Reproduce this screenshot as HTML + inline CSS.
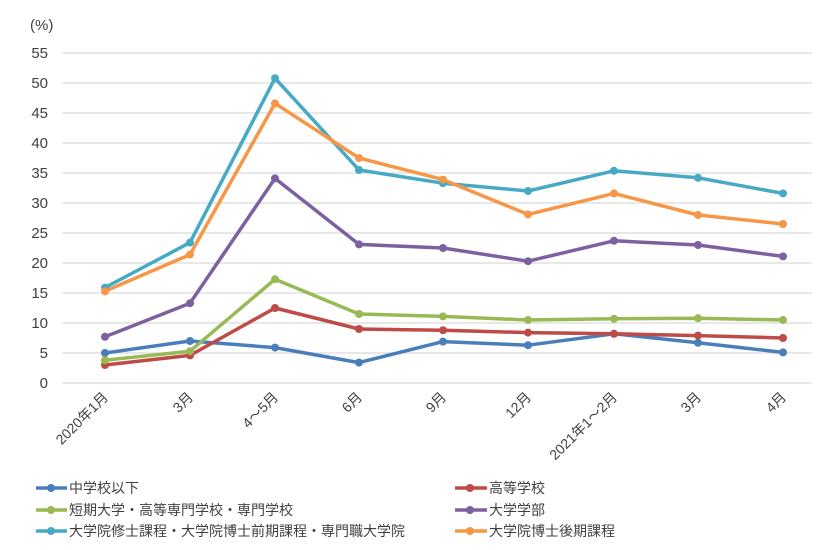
<!DOCTYPE html>
<html><head><meta charset="utf-8"><style>
body{margin:0;background:#fff}
text{font-family:"Liberation Sans","Noto Sans CJK JP",sans-serif;fill:#404040}
</style></head><body>
<svg width="840" height="545" viewBox="0 0 840 545" xmlns="http://www.w3.org/2000/svg">
<g stroke="#d9d9d9" stroke-width="1.3">
<line x1="62" x2="812" y1="53" y2="53"/><line x1="62" x2="812" y1="83" y2="83"/>
<line x1="62" x2="812" y1="113" y2="113"/><line x1="62" x2="812" y1="143" y2="143"/>
<line x1="62" x2="812" y1="173" y2="173"/><line x1="62" x2="812" y1="203" y2="203"/>
<line x1="62" x2="812" y1="233" y2="233"/><line x1="62" x2="812" y1="263" y2="263"/>
<line x1="62" x2="812" y1="293" y2="293"/><line x1="62" x2="812" y1="323" y2="323"/>
<line x1="62" x2="812" y1="353" y2="353"/><line x1="62" x2="812" y1="383" y2="383"/>
</g>
<g font-size="15" text-anchor="end">
<text x="48" y="58">55</text><text x="48" y="88">50</text><text x="48" y="118">45</text>
<text x="48" y="148">40</text><text x="48" y="178">35</text><text x="48" y="208">30</text>
<text x="48" y="238">25</text><text x="48" y="268">20</text><text x="48" y="298">15</text>
<text x="48" y="328">10</text><text x="48" y="358">5</text><text x="48" y="388">0</text>
</g>
<text x="30" y="30" font-size="15">(%)</text>
<g font-size="14" text-anchor="end">
<text transform="translate(109,398) rotate(-45)">2020年1月</text>
<text transform="translate(194,398) rotate(-45)">3月</text>
<text transform="translate(279,398) rotate(-45)">4～5月</text>
<text transform="translate(363,398) rotate(-45)">6月</text>
<text transform="translate(447,398) rotate(-45)">9月</text>
<text transform="translate(532,398) rotate(-45)">12月</text>
<text transform="translate(618,398) rotate(-45)">2021年1～2月</text>
<text transform="translate(702,398) rotate(-45)">3月</text>
<text transform="translate(787,398) rotate(-45)">4月</text>
</g>
<g fill="none" stroke-width="3.5" stroke-linejoin="round">
<polyline stroke="#4a7ebb" points="105,353 190,341 275,347.6 359,362.6 443,341.6 528,345.2 614,333.8 698,342.8 783,352.4"/>
<polyline stroke="#be4b48" points="105,365 190,355.4 275,308 359,329 443,330.2 528,332.6 614,333.8 698,335.6 783,338"/>
<polyline stroke="#98b954" points="105,360.2 190,351.2 275,279.2 359,314 443,316.4 528,320 614,318.8 698,318.2 783,320"/>
<polyline stroke="#7d60a0" points="105,336.8 190,303.2 275,178.4 359,244.4 443,248 528,261.2 614,240.8 698,245 783,256.4"/>
<polyline stroke="#46aac5" points="105,287.6 190,242.6 275,78.2 359,170 443,183.2 528,191 614,170.8 698,177.8 783,193.4"/>
<polyline stroke="#f79646" points="105,291.2 190,254.6 275,103.4 359,158 443,179.6 528,214.4 614,193.4 698,215 783,224"/>
</g>
<g>
<g fill="#4a7ebb"><circle cx="105" cy="353" r="4"/><circle cx="190" cy="341" r="4"/><circle cx="275" cy="347.6" r="4"/><circle cx="359" cy="362.6" r="4"/><circle cx="443" cy="341.6" r="4"/><circle cx="528" cy="345.2" r="4"/><circle cx="614" cy="333.8" r="4"/><circle cx="698" cy="342.8" r="4"/><circle cx="783" cy="352.4" r="4"/></g>
<g fill="#be4b48"><circle cx="105" cy="365" r="4"/><circle cx="190" cy="355.4" r="4"/><circle cx="275" cy="308" r="4"/><circle cx="359" cy="329" r="4"/><circle cx="443" cy="330.2" r="4"/><circle cx="528" cy="332.6" r="4"/><circle cx="614" cy="333.8" r="4"/><circle cx="698" cy="335.6" r="4"/><circle cx="783" cy="338" r="4"/></g>
<g fill="#98b954"><circle cx="105" cy="360.2" r="4"/><circle cx="190" cy="351.2" r="4"/><circle cx="275" cy="279.2" r="4"/><circle cx="359" cy="314" r="4"/><circle cx="443" cy="316.4" r="4"/><circle cx="528" cy="320" r="4"/><circle cx="614" cy="318.8" r="4"/><circle cx="698" cy="318.2" r="4"/><circle cx="783" cy="320" r="4"/></g>
<g fill="#7d60a0"><circle cx="105" cy="336.8" r="4"/><circle cx="190" cy="303.2" r="4"/><circle cx="275" cy="178.4" r="4"/><circle cx="359" cy="244.4" r="4"/><circle cx="443" cy="248" r="4"/><circle cx="528" cy="261.2" r="4"/><circle cx="614" cy="240.8" r="4"/><circle cx="698" cy="245" r="4"/><circle cx="783" cy="256.4" r="4"/></g>
<g fill="#46aac5"><circle cx="105" cy="287.6" r="4"/><circle cx="190" cy="242.6" r="4"/><circle cx="275" cy="78.2" r="4"/><circle cx="359" cy="170" r="4"/><circle cx="443" cy="183.2" r="4"/><circle cx="528" cy="191" r="4"/><circle cx="614" cy="170.8" r="4"/><circle cx="698" cy="177.8" r="4"/><circle cx="783" cy="193.4" r="4"/></g>
<g fill="#f79646"><circle cx="105" cy="291.2" r="4"/><circle cx="190" cy="254.6" r="4"/><circle cx="275" cy="103.4" r="4"/><circle cx="359" cy="158" r="4"/><circle cx="443" cy="179.6" r="4"/><circle cx="528" cy="214.4" r="4"/><circle cx="614" cy="193.4" r="4"/><circle cx="698" cy="215" r="4"/><circle cx="783" cy="224" r="4"/></g>
</g>
<g stroke-width="3.5">
<line x1="36" x2="67" y1="488" y2="488" stroke="#4a7ebb"/><circle cx="51" cy="488" r="4" fill="#4a7ebb"/>
<line x1="36" x2="67" y1="510" y2="510" stroke="#98b954"/><circle cx="51" cy="510" r="4" fill="#98b954"/>
<line x1="36" x2="67" y1="531" y2="531" stroke="#46aac5"/><circle cx="51" cy="531" r="4" fill="#46aac5"/>
<line x1="455" x2="487" y1="488" y2="488" stroke="#be4b48"/><circle cx="470" cy="488" r="4" fill="#be4b48"/>
<line x1="455" x2="487" y1="510" y2="510" stroke="#7d60a0"/><circle cx="470" cy="510" r="4" fill="#7d60a0"/>
<line x1="455" x2="487" y1="531" y2="531" stroke="#f79646"/><circle cx="470" cy="531" r="4" fill="#f79646"/>
</g>
<g font-size="14">
<text x="69" y="493">中学校以下</text>
<text x="69" y="515">短期大学・高等専門学校・専門学校</text>
<text x="69" y="536">大学院修士課程・大学院博士前期課程・専門職大学院</text>
<text x="489" y="493">高等学校</text>
<text x="489" y="515">大学学部</text>
<text x="489" y="536">大学院博士後期課程</text>
</g>
</svg>
</body></html>
